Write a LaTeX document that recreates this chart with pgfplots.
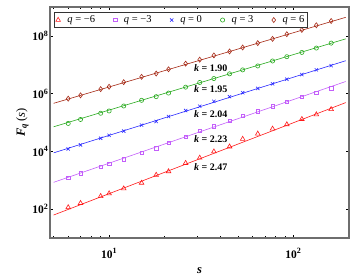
\documentclass[border=0pt]{standalone}
\usepackage{fontspec}
\setmainfont{Liberation Serif}
\usepackage{pgfplots}
\pgfplotsset{compat=1.18}
\definecolor{cred}{RGB}{255,25,25}
\definecolor{cmag}{RGB}{195,95,250}
\definecolor{cblue}{RGB}{40,40,255}
\definecolor{cgreen}{RGB}{40,170,30}
\definecolor{cbrown}{RGB}{165,40,20}
\definecolor{frame}{RGB}{110,110,110}
\begin{document}
\begin{tikzpicture}
\begin{axis}[
  scale only axis, width=299pt, height=231pt,
  xmode=log, ymode=log,
  xmin=4.78, xmax=200, ymin=10, ymax=1e9,
  xtick={10,100}, minor xtick={5,6,7,8,9,20,30,40,50,60,70,80,90,200},
  ytick={1e2,1e4,1e6,1e8}, minor ytick={},
  xticklabels={\textbf{10}\textsuperscript{\textbf{1}}, \textbf{10}\textsuperscript{\textbf{2}}},
  yticklabels={\textbf{10}\textsuperscript{\textbf{2}}, \textbf{10}\textsuperscript{\textbf{4}}, \textbf{10}\textsuperscript{\textbf{6}}, \textbf{10}\textsuperscript{\textbf{8}}},
  ticklabel style={font=\fontsize{11.5}{13}\selectfont},
  xticklabel style={yshift=-7pt},
  yticklabel style={xshift=2pt},
  tick align=inside, major tick length=3.5pt, minor tick length=2pt,
  tick style={black, line width=0.5pt},
  axis line style={frame, line width=1.2pt},
  xlabel={\textbf{\textit{s}}}, ylabel={\textbf{\textit{F}}\textsubscript{\textbf{\textit{q}}}\,(\textit{s})},
  label style={font=\fontsize{12.5}{14}\selectfont},
  xlabel style={yshift=-2pt},
  ylabel style={yshift=-3pt},
  legend columns=5,
  legend style={at={(0,1)}, anchor=north west, xshift=4pt, yshift=-5pt,
    draw=black!80, line width=0.6pt, font=\fontsize{10.5}{12}\selectfont,
    inner sep=1.5pt,
    /tikz/every odd column/.append style={column sep=5pt},
    /tikz/every even column/.append style={column sep=16.5pt}},
  legend cell align=left,
]
% fit lines
\addplot[cbrown, line width=0.6pt, forget plot] coordinates {(5,4.62e5) (192,4.39e8)};
\addplot[cgreen, line width=0.6pt, forget plot] coordinates {(5,7.10e4) (192,7.89e7)};
\addplot[cblue, line width=0.6pt, forget plot] coordinates {(5,8.87e3) (192,1.38e7)};
\addplot[cmag, line width=0.6pt, forget plot] coordinates {(5,8.47e2) (192,2.63e6)};
\addplot[cred, line width=0.6pt, forget plot] coordinates {(5,62.4) (192,4.89e5)};
% data
\addplot[only marks, cred, mark=triangle, mark size=2.7pt, mark options={line width=0.6pt}] coordinates {
(6,1.146e2) (7,1.611e2) (9,2.799e2) (10,3.467e2) (12,5.152e2) (15,8.072e2)
(18,1.521e3) (21,2.023e3) (26,3.926e3) (31,5.970e3) (37,9.840e3) (45,1.459e4)
(53,2.685e4) (64,4.074e4) (77,6.053e4) (92,8.570e4) (111,1.303e5) (133,1.892e5) (160,2.877e5)};
\addlegendentry{\textit{q} = −6}
\addplot[only marks, cmag, mark=square, mark size=1.7pt, mark options={line width=0.6pt}] coordinates {
(6,1.227e3) (7,1.726e3) (9,2.864e3) (10,3.631e3) (12,5.383e3) (15,9.078e3)
(18,1.285e4) (21,1.954e4) (26,3.221e4) (31,5.047e4) (37,7.499e4) (45,1.140e5)
(53,1.694e5) (64,2.455e5) (77,3.648e5) (92,5.284e5) (111,7.603e5) (133,1.045e6) (160,1.549e6)};
\addlegendentry{\textit{q} = −3}
\addplot[only marks, cblue, mark=x, mark size=2.3pt, mark options={line width=0.6pt}] coordinates {
(6,1.216e4) (7,1.671e4) (9,2.838e4) (10,3.597e4) (12,5.047e4) (15,8.110e4)
(18,1.086e5) (21,1.614e5) (26,2.594e5) (31,3.648e5) (37,5.420e5) (45,7.852e5)
(53,1.076e6) (64,1.514e6) (77,2.193e6) (92,3.155e6) (111,4.581e6) (133,6.637e6) (160,9.333e6)};
\addlegendentry{\textit{q} = 0}
\addplot[only marks, cgreen, mark=o, mark size=2.1pt, mark options={line width=0.6pt}] coordinates {
(6,9.29e4) (7,1.274e5) (9,2.094e5) (10,2.512e5) (12,3.733e5) (15,5.861e5)
(18,7.852e5) (21,1.045e6) (26,1.679e6) (31,2.432e6) (37,3.334e6) (45,4.842e6)
(53,6.637e6) (64,9.099e6) (77,1.352e7) (92,1.901e7) (111,2.673e7) (133,3.784e7) (160,5.61e7)};
\addlegendentry{\textit{q} = 3}
\addplot[only marks, cbrown, mark=diamond, mark size=2.5pt, mark options={line width=0.6pt}] coordinates {
(6,6.70e5) (7,8.71e5) (9,1.432e6) (10,1.730e6) (12,2.489e6) (15,3.819e6)
(18,4.955e6) (21,6.966e6) (26,1.091e7) (31,1.500e7) (37,2.104e7) (45,2.891e7)
(53,3.963e7) (64,5.610e7) (77,7.889e7) (92,1.143e8) (111,1.607e8) (133,2.328e8) (160,3.273e8)};
\addlegendentry{\textit{q} = 6}
\begin{scope}[every node/.style={font=\fontsize{10}{12}\selectfont\bfseries}]
\node at (axis cs:35.6,7.83e6) {\textit{k} = 1.90};
\node at (axis cs:35.6,1.416e6) {\textit{k} = 1.95};
\node at (axis cs:35.6,1.97e5) {\textit{k} = 2.04};
\node at (axis cs:35.6,2.74e4) {\textit{k} = 2.23};
\node at (axis cs:35.6,2.79e3) {\textit{k} = 2.47};
\end{scope}
\coordinate (bl) at (rel axis cs:0,0);
\coordinate (tr) at (rel axis cs:1,1);
\end{axis}
\pgfresetboundingbox
\path ([shift={(-50pt,-38pt)}]bl) rectangle ([shift={(5pt,7pt)}]tr);
\end{tikzpicture}
\end{document}
